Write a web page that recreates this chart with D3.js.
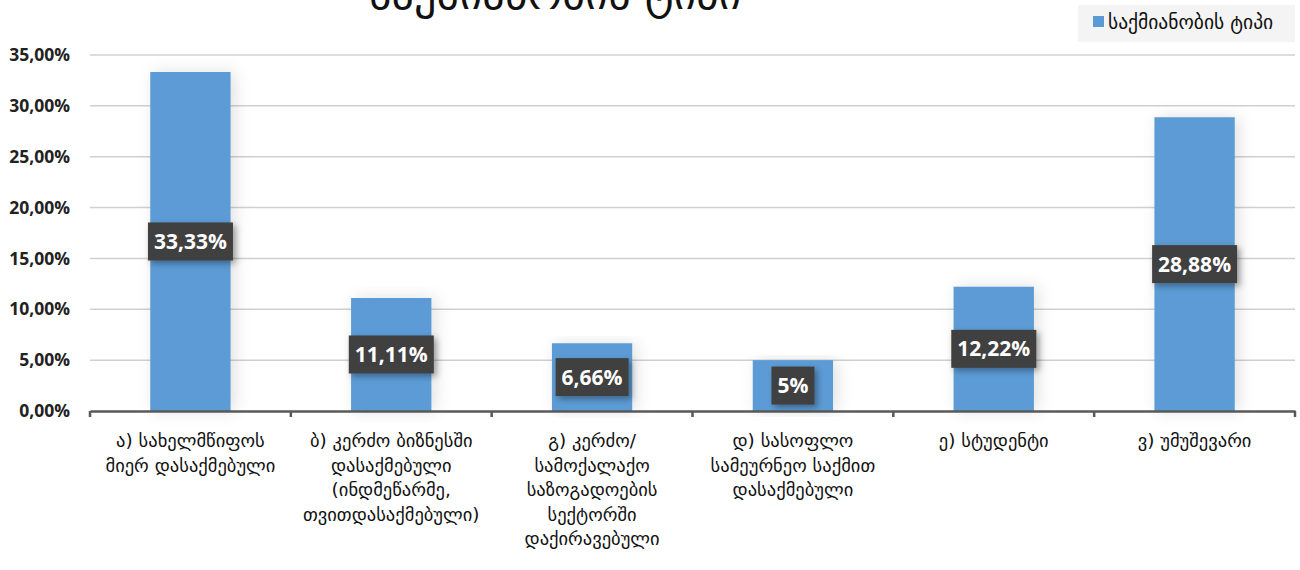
<!DOCTYPE html>
<html><head><meta charset="utf-8">
<script src="https://cdn.jsdelivr.net/npm/d3@7"></script>
<style>
html,body{margin:0;padding:0;background:#fff;}
svg{display:block;}
</style></head>
<body>
<svg id="chart" width="1300" height="570"></svg>
<script>
const categories = [
  ["ა) სახელმწიფოს", "მიერ დასაქმებული"],
  ["ბ) კერძო ბიზნესში", "დასაქმებული", "(ინდმეწარმე,", "თვითდასაქმებული)"],
  ["გ) კერძო/", "სამოქალაქო", "საზოგადოების", "სექტორში", "დაქირავებული"],
  ["დ) სასოფლო", "სამეურნეო საქმით", "დასაქმებული"],
  ["ე) სტუდენტი"],
  ["ვ) უმუშევარი"]
];
const values = [33.33, 11.11, 6.66, 5, 12.22, 28.88];
const valueLabels = ["33,33%", "11,11%", "6,66%", "5%", "12,22%", "28,88%"];
const yTicks = [0, 5, 10, 15, 20, 25, 30, 35];
const yTickLabels = ["0,00%", "5,00%", "10,00%", "15,00%", "20,00%", "25,00%", "30,00%", "35,00%"];
const seriesName = "საქმიანობის ტიპი";
const title = "საქმიანობის ტიპი";

const svg = d3.select("#chart");
const geoFont = "'DejaVu Sans', sans-serif";
const latinFont = "'Open Sans', 'Liberation Sans', sans-serif";

const pLeft = 90, pRight = 1295, pTop = 55, pBottom = 411;
const x = d3.scaleBand().domain(d3.range(categories.length)).range([pLeft, pRight]).paddingInner(0.6).paddingOuter(0.3);
const y = d3.scaleLinear().domain([0, 35]).range([pBottom, pTop]);

const defs = svg.append("defs");
const sh = defs.append("filter").attr("id", "shadow").attr("x", "-30%").attr("y", "-30%").attr("width", "160%").attr("height", "160%");
sh.append("feDropShadow").attr("dx", 3).attr("dy", 3).attr("stdDeviation", 3).attr("flood-color", "#000").attr("flood-opacity", 0.35);
const bsh = defs.append("filter").attr("id", "barshadow").attr("x", "-50%").attr("y", "-10%").attr("width", "200%").attr("height", "120%");
bsh.append("feDropShadow").attr("dx", 4).attr("dy", 0).attr("stdDeviation", 8).attr("flood-color", "#000").attr("flood-opacity", 0.12);

// Title (cut off at top, as in the reference)
svg.append("text").attr("x", 555).attr("y", 9).attr("text-anchor", "middle")
  .attr("font-family", geoFont).attr("font-size", 44).attr("fill", "#111").text(title);

// gridlines
svg.append("g").selectAll("line").data(yTicks.slice(1)).join("line")
  .attr("x1", pLeft).attr("x2", pRight).attr("y1", d => y(d)).attr("y2", d => y(d))
  .attr("stroke", "#d0d0d0").attr("stroke-width", 1.5);

// y labels
svg.append("g").selectAll("text").data(yTicks).join("text")
  .attr("x", 70).attr("y", d => y(d)).attr("dy", "0.35em").attr("text-anchor", "end")
  .attr("font-family", latinFont).attr("font-weight", "bold").attr("font-size", 17.5).attr("fill", "#222")
  .text((d, i) => yTickLabels[i]);

// bars
svg.append("g").selectAll("rect").data(values).join("rect")
  .attr("x", (d, i) => x(i)).attr("width", x.bandwidth())
  .attr("y", d => y(d)).attr("height", d => y(0) - y(d))
  .attr("fill", "#5b9bd5").attr("filter", "url(#barshadow)");

// axis
const xAxis = d3.axisBottom(x).tickSize(0).tickFormat("");
const ax = svg.append("g").attr("transform", `translate(0,${pBottom})`).call(xAxis);
ax.select(".domain").attr("stroke", "#595959").attr("stroke-width", 2.5);
const bounds = d3.range(categories.length + 1).map(i => pLeft + i * x.step());
ax.selectAll(".bt").data(bounds).join("line").attr("class", "bt")
  .attr("x1", d => d).attr("x2", d => d).attr("y1", 0).attr("y2", 6)
  .attr("stroke", "#595959").attr("stroke-width", 2.5);

// category labels
const cl = svg.append("g");
categories.forEach((lines, i) => {
  const t = cl.append("text").attr("x", x(i) + x.bandwidth() / 2).attr("y", 447)
    .attr("text-anchor", "middle").attr("font-family", geoFont).attr("font-size", 18.5).attr("fill", "#111");
  lines.forEach((ln, j) => t.append("tspan").attr("x", x(i) + x.bandwidth() / 2).attr("dy", j === 0 ? 0 : 24.5).text(ln));
});

// value labels
const vl = svg.append("g");
values.forEach((v, i) => {
  const cx = x(i) + x.bandwidth() / 2, cy = (y(v) + y(0)) / 2;
  const g = vl.append("g");
  const t = g.append("text").attr("x", cx).attr("y", cy).attr("dy", "0.36em").attr("text-anchor", "middle")
    .attr("font-family", latinFont).attr("font-weight", "bold").attr("font-size", 21).attr("fill", "#fff").text(valueLabels[i]);
  const bb = t.node().getBBox();
  g.insert("rect", "text").attr("x", bb.x - 6).attr("y", cy - 19).attr("width", bb.width + 12).attr("height", 38)
    .attr("fill", "#404040").attr("filter", "url(#shadow)");
});

// legend
const lg = svg.append("g");
lg.append("rect").attr("x", 1078).attr("y", 5).attr("width", 217).attr("height", 37).attr("fill", "#f4f4f4");
lg.append("rect").attr("x", 1093).attr("y", 16).attr("width", 11).attr("height", 11).attr("fill", "#5b9bd5");
lg.append("text").attr("x", 1108).attr("y", 22).attr("dy", "0.35em").attr("font-family", geoFont)
  .attr("font-size", 19.5).attr("fill", "#111").text(seriesName);
</script>
</body></html>
